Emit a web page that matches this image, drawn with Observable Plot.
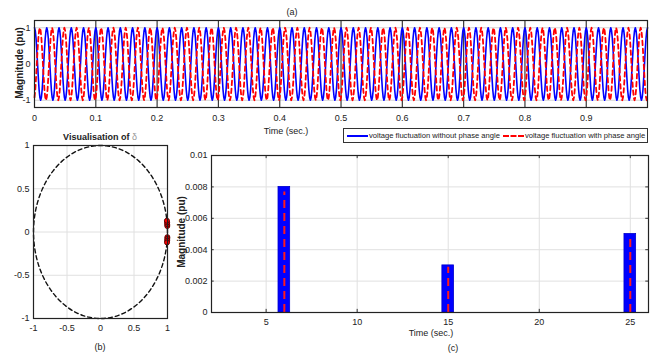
<!DOCTYPE html>
<html><head><meta charset="utf-8">
<script src="https://cdn.jsdelivr.net/npm/d3@7"></script>
<script src="https://cdn.jsdelivr.net/npm/@observablehq/plot@0.6"></script>
<style>
body{margin:0;background:#fff;}
#root{position:relative;width:657px;height:357px;overflow:hidden;background:#fff;font-family:"Liberation Sans Narrow","Arial Narrow","Liberation Sans",Arial,sans-serif;color:#222;}
#root svg{position:absolute;}
.lab{position:absolute;white-space:nowrap;transform:translate(-50%,-50%);font-size:9px;line-height:1;}
.rot{transform:translate(-50%,-50%) rotate(-90deg);}
.b{font-weight:bold;}
.big{font-size:10px;}
.legend{position:absolute;left:343px;top:128px;width:305px;height:15px;border:1px solid #333;background:#fff;font-size:7.6px;display:flex;align-items:center;white-space:nowrap;box-sizing:border-box;padding-left:3px;overflow:hidden;}
.sw{display:inline-block;flex:0 0 21px;width:21px;height:0;margin-right:1px;}
</style></head><body><div id="root"></div>
<script>
// ---- panel (a) data ----
const timeTicksA = [0, 0.1, 0.2, 0.3, 0.4, 0.5, 0.6, 0.7, 0.8, 0.9];
const magTicksA = [-1, 0, 1];
const cycleShape = [1, 0.92, 0.71, 0.38, 0, -0.38, -0.71, -0.92, -1, -0.92, -0.71, -0.38, 0, 0.38, 0.71, 0.92];
const cyclesShown = 50;      // 50 Hz over 1 s
const cyclePeriod = 0.02;    // s
const phaseLagSamples = 7;   // red lags blue by 7/16 of a cycle
// ---- panel (b) data ----
const circleTicks = [-1, -0.5, 0, 0.5, 1];
const circleAnglesDeg = d3.range(0, 361, 5);
const deltaX = [0.997, 0.996, 0.994, 0.991, 0.998, 0.997, 0.995, 0.993];
const deltaY = [0.07, 0.09, 0.11, 0.13, -0.06, -0.08, -0.10, -0.12];
// ---- panel (c) data ----
const barTimes = [6, 15, 25];
const barMagnitudes = [0.008, 0.003, 0.005];
const barTicksX = [5, 10, 15, 20, 25];
const barTicksY = [0, 0.002, 0.004, 0.006, 0.008, 0.01];

const FONT = '"Liberation Sans Narrow","Arial Narrow","Liberation Sans",Arial,sans-serif';
const baseStyle = {fontFamily: FONT, fontSize: "9px", background: "transparent", color: "#222", overflow: "visible"};
const root = document.getElementById("root");

// waveform rows
const spc = cycleShape.length;
const blue = [], red = [];
for (let k = 0; k <= cyclesShown * spc; k++) {
  const t = k * cyclePeriod / spc;
  blue.push({t, v: cycleShape[k % spc]});
  red.push({t, v: cycleShape[(k + spc - phaseLagSamples) % spc]});
}

const pa = Plot.plot({
  width: 657, height: 140, marginLeft: 34, marginRight: 10, marginTop: 20, marginBottom: 33,
  style: baseStyle,
  x: {domain: [0, 0.9999]},
  y: {domain: [-1.2, 1.2]},
  marks: [
    Plot.ruleY([-1, 1], {stroke: "#d4d4d4", strokeWidth: 1}),
    Plot.ruleX(timeTicksA.slice(1), {stroke: "#3a3a3a", strokeWidth: 1.2}),
    Plot.line(blue, {x: "t", y: "v", stroke: "#0000ff", strokeWidth: 1.6}),
    Plot.line(red, {x: "t", y: "v", stroke: "#ff0000", strokeWidth: 1.8, strokeDasharray: "4.5,3.5"}),
    Plot.frame({stroke: "#222", strokeWidth: 1.2}),
    Plot.axisX({ticks: timeTicksA, tickSize: 0, tickPadding: 7, label: null, tickFormat: d => String(d)}),
    Plot.axisY({ticks: magTicksA, tickSize: 0, tickPadding: 4, label: null, tickFormat: d => String(d)})
  ]
});
pa.style.left = "0px"; pa.style.top = "0px";
root.appendChild(pa);

// panel (b)
const circle = circleAnglesDeg.map(a => ({x: Math.cos(a * Math.PI / 180), y: Math.sin(a * Math.PI / 180)}));
const deltas = deltaX.map((x, i) => ({x, y: deltaY[i]}));
const pb = Plot.plot({
  width: 175, height: 205, marginLeft: 33, marginRight: 8, marginTop: 15, marginBottom: 17,
  style: baseStyle,
  x: {domain: [-1, 1]},
  y: {domain: [-1, 1]},
  marks: [
    Plot.ruleX(circleTicks.slice(1, -1), {stroke: "#e0e0e0", strokeWidth: 1}),
    Plot.ruleY(circleTicks.slice(1, -1), {stroke: "#e0e0e0", strokeWidth: 1}),
    Plot.line(circle, {x: "x", y: "y", stroke: "#111", strokeWidth: 1.4, strokeDasharray: "4,3", curve: "catmull-rom"}),
    Plot.dot(deltas, {x: "x", y: "y", r: 2.5, fill: "#ff0000", stroke: "#5a0000", strokeWidth: 1}),
    Plot.frame({stroke: "#222", strokeWidth: 1.2}),
    Plot.axisX({ticks: circleTicks, tickSize: 0, tickPadding: 6, label: null, tickFormat: d => String(d)}),
    Plot.axisY({ticks: circleTicks, tickSize: 0, tickPadding: 4, label: null, tickFormat: d => String(d)})
  ]
});
pb.style.left = "0px"; pb.style.top = "130px";
root.appendChild(pb);

// panel (c)
const bars = barTimes.map((t, i) => ({t, v: barMagnitudes[i]}));
const barHalf = 0.32;
const pc = Plot.plot({
  width: 482, height: 190, marginLeft: 36, marginRight: 9, marginTop: 15, marginBottom: 18,
  style: baseStyle,
  x: {domain: [2, 26]},
  y: {domain: [0, 0.01]},
  marks: [
    Plot.ruleX(barTicksX, {stroke: "#e0e0e0", strokeWidth: 1}),
    Plot.ruleY(barTicksY.slice(1, -1), {stroke: "#e0e0e0", strokeWidth: 1}),
    Plot.ruleX(barTicksX, {y1: 0.01, y2: 0.0098, stroke: "#333", strokeWidth: 1}),
    Plot.ruleX(barTicksX, {y1: 0, y2: 0.0002, stroke: "#333", strokeWidth: 1}),
    Plot.ruleY(barTicksY, {x1: 26, x2: 25.85, stroke: "#333", strokeWidth: 1}),
    Plot.ruleY(barTicksY, {x1: 2, x2: 2.15, stroke: "#333", strokeWidth: 1}),
    Plot.rect(bars, {x1: d => d.t - barHalf, x2: d => d.t + barHalf, y1: 0, y2: "v", fill: "#0000ff", stroke: "#0000cc", strokeWidth: 0.8}),
    Plot.ruleX(bars, {x: "t", y1: 0, y2: d => d.v * 0.96, stroke: "#ff1a1a", strokeWidth: 2, strokeDasharray: "8,5"}),
    Plot.frame({stroke: "#222", strokeWidth: 1.2}),
    Plot.axisX({ticks: barTicksX, tickSize: 0, tickPadding: 6, label: null, tickFormat: d => String(d)}),
    Plot.axisY({ticks: barTicksY, tickSize: 0, tickPadding: 4, label: null, tickFormat: d => String(d)})
  ]
});
pc.style.left = "175px"; pc.style.top = "140px";
root.appendChild(pc);

// text labels
function lab(text, x, y, cls) {
  const d = document.createElement("div");
  d.className = "lab " + (cls || "");
  d.style.left = x + "px"; d.style.top = y + "px";
  d.innerHTML = text;
  root.appendChild(d);
}
lab("(a)", 292, 12, "");
lab("Magnitude (pu)", 20, 63, "rot b big");
lab("Time (sec.)", 286, 131, "");
lab('Visualisation of <span style="color:#999;font-weight:normal">δ</span>', 100, 137, "b");
lab("(b)", 100, 347, "");
lab("Magnitude (pu)", 182, 232, "rot b big");
lab("Time (sec.)", 431, 333, "");
lab("(c)", 453, 348, "");

const lg = document.createElement("div");
lg.className = "legend";
lg.innerHTML = '<span class="sw" style="border-top:2px solid #0000ff"></span><span>voltage fluctuation without phase angle</span>' +
  '<span class="sw" style="border-top:2px dashed #ff0000;margin-left:3px"></span><span>voltage fluctuation with phase angle</span>';
root.appendChild(lg);
</script></body></html>
